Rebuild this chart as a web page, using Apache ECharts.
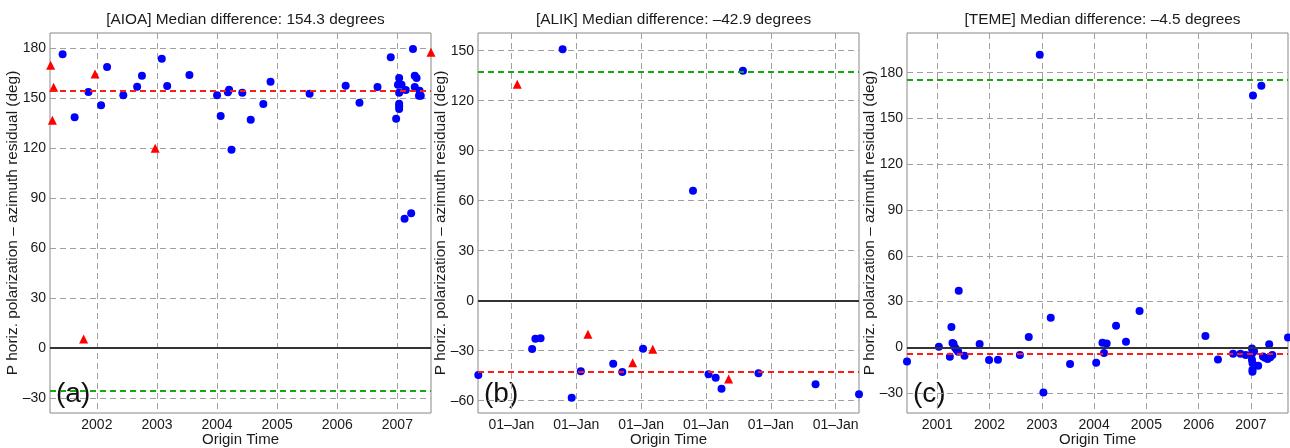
<!DOCTYPE html>
<html><head><meta charset="utf-8">
<script src="https://cdn.jsdelivr.net/npm/echarts@6/dist/echarts.min.js"></script>
<style>html,body{margin:0;padding:0;background:#fff}#c{width:1290px;height:448px}</style>
</head><body><div id="c"></div>
<script>
// ---------- data ----------
const titles = ['[AIOA] Median difference: 154.3 degrees', '[ALIK] Median difference: \u201342.9 degrees', '[TEME] Median difference: \u20134.5 degrees'];
const panelLetters = ['(a)', '(b)', '(c)'];
const medians = [154.3, -42.9, -4.5];
const altLines = [-25.7, 137.1, 175.5];
const xRangeA = [2001.22, 2007.56];
const xRangeB = [2001.485, 2007.36];
const xRangeC = [2000.42, 2007.71];
const yRangeA = [-39, 189];
const yRangeB = [-67.4, 160.6];
const yRangeC = [-43, 206];
const xTicksA = [2002, 2003, 2004, 2005, 2006, 2007];
const xTicksB = [2002, 2003, 2004, 2005, 2006, 2007];
const xTicksC = [2001, 2002, 2003, 2004, 2005, 2006, 2007];
const xLabelB = '01\u2013Jan';
const yTicksA = [-30, 0, 30, 60, 90, 120, 150, 180];
const yTicksB = [-60, -30, 0, 30, 60, 90, 120, 150];
const yTicksC = [-30, 0, 30, 60, 90, 120, 150, 180];

const blueA = [[2001.43,176.2],[2001.63,138.4],[2001.86,153.6],[2002.07,145.6],[2002.17,168.6],[2002.44,151.6],[2002.67,156.8],[2002.75,163.4],[2003.08,173.6],[2003.17,157.2],[2003.54,163.8],[2004.0,151.6],[2004.06,139.2],[2004.18,153.4],[2004.2,155],[2004.24,119],[2004.42,153.2],[2004.56,137],[2004.77,146.4],[2004.89,159.8],[2005.54,152.6],[2006.14,157.4],[2006.37,147.2],[2006.67,156.6],[2006.89,174.4],[2006.98,137.6],[2007.01,158],[2007.03,162],[2007.03,146.6],[2007.03,145],[2007.03,143.4],[2007.03,153.2],[2007.07,158],[2007.12,77.6],[2007.14,154.8],[2007.23,80.8],[2007.26,179.4],[2007.29,163.4],[2007.29,156.6],[2007.32,162],[2007.36,151.4],[2007.37,154.4],[2007.39,151.4]];
const redA = [[2001.23,169.6],[2001.28,156.4],[2001.26,136.6],[2001.97,164.4],[2001.78,5.4],[2002.97,119.8],[2007.56,177.4]];

const blueB = [[2001.49,-44.6],[2002.79,150.8],[2002.32,-29],[2002.37,-22.8],[2002.45,-22.6],[2002.93,-58.2],[2003.07,-42.4],[2003.57,-37.8],[2003.71,-42.8],[2004.03,-28.8],[2004.80,66],[2005.04,-44.2],[2005.15,-46.2],[2005.24,-52.8],[2005.57,138],[2005.81,-43.6],[2006.69,-50.2],[2007.36,-56.2]];
const redB = [[2002.09,129.8],[2003.18,-20.2],[2003.87,-37.2],[2004.18,-29.2],[2005.35,-47]];

const blueC = [[2000.42,-9.2],[2001.03,0.4],[2001.24,-6.1],[2001.27,13.3],[2001.29,2.8],[2001.31,2.4],[2001.34,-0.2],[2001.37,-1.5],[2001.41,37.1],[2001.40,-2.8],[2001.52,-5.5],[2001.81,2.2],[2001.99,-8.3],[2002.16,-8.1],[2002.58,-5],[2002.75,6.8],[2002.96,191.8],[2003.03,-29.5],[2003.17,19.4],[2003.54,-10.9],[2004.04,-10],[2004.16,3.1],[2004.19,-3.7],[2004.24,2.6],[2004.42,14.2],[2004.61,3.7],[2004.87,23.8],[2006.13,7.4],[2006.37,-7.9],[2006.66,-4.1],[2006.80,-4.1],[2006.90,-5],[2007.02,-0.7],[2007.02,-4.1],[2007.02,-8.1],[2007.03,-10.3],[2007.03,-14.6],[2007.03,-15.9],[2007.04,165],[2007.06,-2.6],[2007.14,-12],[2007.20,171.5],[2007.23,-5.9],[2007.27,-6.8],[2007.32,-7.6],[2007.35,2],[2007.37,-6.5],[2007.41,-5],[2007.71,6.5]];
const redC = [];

// ---------- chart ----------
const FONT = 'Liberation Sans';
const lefts = [50, 478, 907];
const W = 381, TOP = 33, H = 380;
const xRanges = [xRangeA, xRangeB, xRangeC];
const yRanges = [yRangeA, yRangeB, yRangeC];
const xTicks = [xTicksA, xTicksB, xTicksC];
const yTicks = [yTicksA, yTicksB, yTicksC];
const blues = [blueA, blueB, blueC];
const reds = [redA, redB, redC];
const dash = s => String(s).replace('-', '\u2013');

const option = {
  animation: false,
  textStyle: { fontFamily: FONT },
  title: titles.map((t, i) => ({
    text: t, left: lefts[i] + W / 2, top: 7, textAlign: 'center',
    textStyle: { fontFamily: FONT, fontSize: 15.4, fontWeight: 'normal', color: '#1a1a1a' }
  })),
  grid: lefts.map(l => ({ left: l, top: TOP, width: W, height: H, show: true, borderColor: '#888', borderWidth: 1,
    backgroundColor: 'transparent', containLabel: false, outerBoundsMode: 'none' })),
  xAxis: [0, 1, 2].map(i => ({
    type: 'value', gridIndex: i, min: xRanges[i][0], max: xRanges[i][1],
    name: 'Origin Time', nameLocation: 'middle', nameGap: 19, nameMoveOverlap: false,
    nameTextStyle: { fontFamily: FONT, fontSize: 15, color: '#1a1a1a', verticalAlign: 'top' },
    axisLine: { show: false },
    axisTick: { show: false, customValues: xTicks[i] },
    axisLabel: { customValues: xTicks[i], margin: 5, fontFamily: FONT, fontSize: 14, color: '#1a1a1a',
      formatter: v => i === 1 ? xLabelB : String(Math.round(v)) },
    splitLine: { show: true, lineStyle: { color: '#a0a0a0', type: [6, 4], width: 1 } }
  })),
  yAxis: [0, 1, 2].map(i => ({
    type: 'value', gridIndex: i, min: yRanges[i][0], max: yRanges[i][1],
    name: 'P horiz. polarization \u2013 azimuth residual (deg)', nameLocation: 'middle', nameGap: 30, nameMoveOverlap: false,
    nameTextStyle: { fontFamily: FONT, fontSize: 15.4, color: '#1a1a1a' },
    axisLine: { show: false },
    axisTick: { show: false, customValues: yTicks[i] },
    axisLabel: { customValues: yTicks[i], margin: 4, fontFamily: FONT, fontSize: 14, color: '#1a1a1a', formatter: v => dash(v) },
    splitLine: { show: true, lineStyle: { color: '#a0a0a0', type: [6, 4], width: 1 } }
  })),
  series: [],
  graphic: panelLetters.map((t, i) => ({
    type: 'text', left: lefts[i] + 6, top: 380,
    style: { text: t, fontFamily: FONT, fontSize: 28, fill: '#111' }
  }))
};

for (let i = 0; i < 3; i++) {
  option.series.push({
    type: 'scatter', xAxisIndex: i, yAxisIndex: i, data: [], z: 1, silent: true,
    markLine: {
      silent: true, symbol: 'none', label: { show: false }, animation: false,
      data: [
        { yAxis: 0, lineStyle: { color: '#333', type: 'solid', width: 2 } },
        { yAxis: medians[i], lineStyle: { color: '#ff1a1a', type: [6, 4], width: 2 } },
        { yAxis: altLines[i], lineStyle: { color: '#11aa11', type: [6, 4], width: 2 } }
      ]
    }
  });
  option.series.push({
    type: 'scatter', xAxisIndex: i, yAxisIndex: i, data: reds[i], clip: false, z: 3,
    symbol: 'triangle', symbolSize: 9, itemStyle: { color: '#ff0000', opacity: 1 }
  });
  option.series.push({
    type: 'scatter', xAxisIndex: i, yAxisIndex: i, data: blues[i], clip: false, z: 4,
    symbol: 'circle', symbolSize: 8, itemStyle: { color: '#0000ff', opacity: 1 }
  });
}

const chart = echarts.init(document.getElementById('c'), null, { renderer: 'canvas' });
chart.setOption(option);
</script>
</body></html>
